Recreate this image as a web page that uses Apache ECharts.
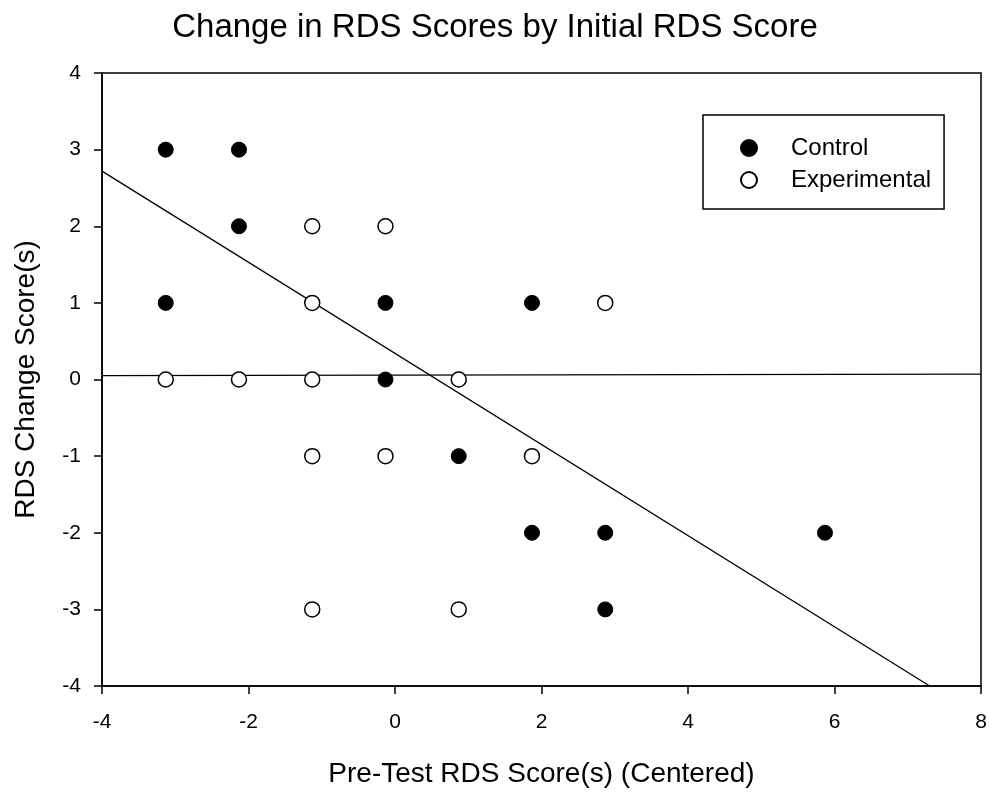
<!DOCTYPE html>
<html>
<head>
<meta charset="utf-8">
<script src="https://cdn.jsdelivr.net/npm/echarts@6/dist/echarts.min.js"></script>
<style>
  html, body { margin: 0; padding: 0; background: #fff; }
  #eChart { width: 990px; height: 793px; }
</style>
</head>
<body>
<div id="eChart"></div>
<script>
// pre-test score (centered) vs change score
var controlPts = [
    [-3.13, 3], [-2.13, 3], [-2.13, 2], [-3.13, 1], [-0.13, 1], [1.87, 1],
    [-0.13, 0], [0.87, -1], [1.87, -2], [2.87, -2], [5.87, -2], [2.87, -3]
];
var experimentalPts = [
    [-1.13, 2], [-0.13, 2], [-1.13, 1], [2.87, 1], [-3.13, 0], [-2.13, 0],
    [-1.13, 0], [0.87, 0], [-1.13, -1], [-0.13, -1], [1.87, -1],
    [-1.13, -3], [0.87, -3]
];
// fitted lines (end points)
var regressLine = [[-4, 2.72], [7.30, -4]];
var flatLine = [[-4, 0.05], [8, 0.07]];

var xTicks = [-4, -2, 0, 2, 4, 6, 8];
var yTicks = [-4, -3, -2, -1, 0, 1, 2, 3, 4];

var FONT = 'Liberation Sans, Arial, sans-serif';

var myChart = echarts.init(document.getElementById('eChart'));

var option = {
    backgroundColor: '#fff',
    animation: false,
    title: {
        text: 'Change in RDS Scores by Initial RDS Score',
        left: 'center',
        top: 6,
        textStyle: { fontFamily: FONT, fontSize: 33, fontWeight: 'normal', color: '#000' }
    },
    legend: {
        data: ['Control', 'Experimental'],
        orient: 'vertical',
        left: 703,
        top: 115,
        borderColor: '#000',
        borderWidth: 1.5,
        padding: [21, 13, 17, 37],
        itemGap: 8,
        itemWidth: 16,
        itemHeight: 16,
        icon: 'circle',
        textStyle: { fontFamily: FONT, fontSize: 24, color: '#000', padding: [0, 0, 0, 29] }
    },
    grid: {
        left: 102,
        right: 9,
        top: 73,
        bottom: 105,
        show: true,
        borderColor: '#000',
        borderWidth: 1.5
    },
    xAxis: {
        type: 'value',
        min: xTicks[0],
        max: xTicks[xTicks.length - 1],
        interval: 2,
        name: 'Pre-Test RDS Score(s) (Centered)',
        nameLocation: 'middle',
        nameGap: 74,
        nameTextStyle: { fontFamily: FONT, fontSize: 28, color: '#000' },
        axisLine: { onZero: false, lineStyle: { color: '#000', width: 1.5 } },
        axisTick: { show: true, inside: false, length: 8, lineStyle: { color: '#000', width: 1.5 } },
        axisLabel: { fontFamily: FONT, fontSize: 21, color: '#000', margin: 26 },
        splitLine: { show: false }
    },
    yAxis: {
        type: 'value',
        min: yTicks[0],
        max: yTicks[yTicks.length - 1],
        interval: 1,
        name: 'RDS Change Score(s)',
        nameLocation: 'middle',
        nameGap: 62,
        nameTextStyle: { fontFamily: FONT, fontSize: 28, color: '#000' },
        axisLine: { onZero: false, lineStyle: { color: '#000', width: 1.5 } },
        axisTick: { show: true, inside: false, length: 8, lineStyle: { color: '#000', width: 1.5 } },
        axisLabel: { fontFamily: FONT, fontSize: 21, color: '#000', margin: 21 },
        splitLine: { show: false }
    },
    series: [
        {
            name: 'fit',
            type: 'line',
            data: regressLine,
            symbol: 'none',
            z: 1,
            lineStyle: { color: '#000', width: 1.3 }
        },
        {
            name: 'flat',
            type: 'line',
            data: flatLine,
            symbol: 'none',
            z: 1,
            lineStyle: { color: '#000', width: 1.3 }
        },
        {
            name: 'Control',
            type: 'scatter',
            data: controlPts,
            symbol: 'circle',
            symbolSize: 15,
            z: 3,
            itemStyle: { color: '#000', borderColor: '#000', borderWidth: 1, opacity: 1 }
        },
        {
            name: 'Experimental',
            type: 'scatter',
            data: experimentalPts,
            symbol: 'circle',
            symbolSize: 15,
            z: 3,
            itemStyle: { color: '#fff', borderColor: '#000', borderWidth: 1.5, opacity: 1 }
        }
    ]
};
myChart.setOption(option);
</script>
</body>
</html>
